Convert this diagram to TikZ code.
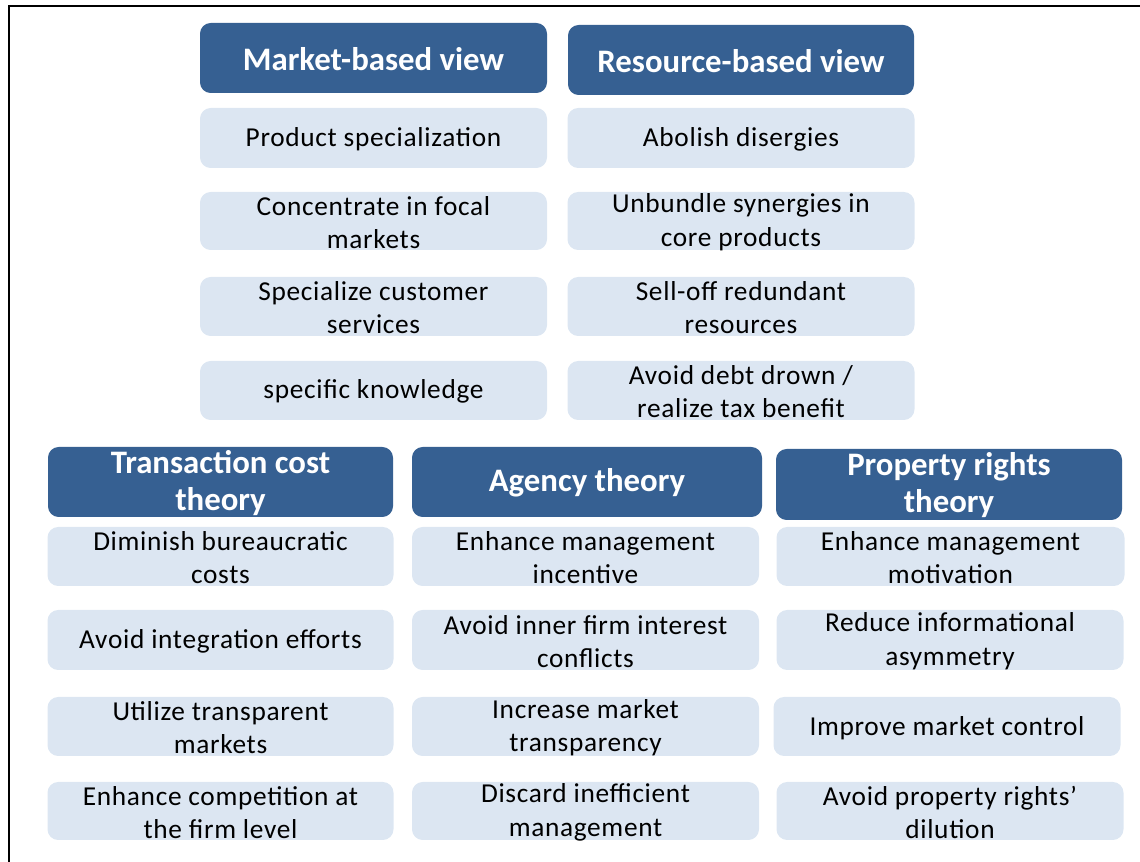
\documentclass[tikz,border=0pt]{standalone}
\usepackage{fontspec}
\setmainfont{Carlito}
\newfontfamily\bodyfont[LetterSpace=2.5]{Carlito}
\definecolor{hdblue}{HTML}{366092}
\definecolor{itblue}{HTML}{DCE6F2}
\tikzset{
  hdbox/.style={fill=hdblue, rounded corners=8pt, inner sep=0pt},
  itbox/.style={fill=itblue, rounded corners=8pt, inner sep=0pt},
  hdtext/.style={text=white, align=center, inner sep=0pt, yshift=-0.5pt, font=\fontsize{24.6}{27.8}\selectfont\bfseries},
  ittext/.style={text=black, align=center, inner sep=0pt, yshift=-1pt, font=\bodyfont\fontsize{20.5}{25}\selectfont},
  frameline/.style={line width=1.5pt, draw=black}
}
\newcommand\tbox[7]{%
  \node[#2box, minimum width=#5*0.75pt, minimum height=#6*0.75pt] (#1) at (#3,#4) {};
  \node[#2text] (#1t) at (#1.center) {#7};
}
\begin{document}
\begin{tikzpicture}[x=0.75pt,y=-0.75pt]
\useasboundingbox (0,0) rectangle (1140,862);
\coordinate (fa) at (8.5,862);
\coordinate (fb) at (8.5,6.5);
\coordinate (fc) at (1140,6.5);
\draw[frameline] (fa) -- (fb) -- (fc);
% top section
\tbox{mbv}{hd}{373.5}{58}{347}{70}{Market-based  view}
\tbox{rbv}{hd}{741}{60}{346}{70}{Resource-based view}
\tbox{m1}{it}{373.5}{138}{347}{60}{Product specialization}
\tbox{m2}{it}{373.5}{221}{347}{58}{Concentrate in focal\\markets}
\tbox{m3}{it}{373.5}{306.5}{347}{59}{Specialize customer\\services}
\tbox{m4}{it}{373.5}{390.5}{347}{59}{specific knowledge}
\tbox{r1}{it}{741}{138}{347}{60}{Abolish disergies}
\tbox{r2}{it}{741}{221}{347}{58}{Unbundle  synergies in\\core products}
\tbox{r3}{it}{741}{306.5}{347}{59}{Sell-off redundant\\resources}
\tbox{r4}{it}{741}{390.5}{347}{59}{Avoid debt drown /\\realize tax benefit}
% bottom section
\tbox{tc}{hd}{220.5}{482}{345}{70}{Transaction  cost\\theory}
\tbox{ag}{hd}{587}{482}{350}{70}{Agency theory}
\tbox{pr}{hd}{949}{484.5}{346}{71}{Property rights\\theory}
\tbox{t1}{it}{220.5}{556.5}{346}{59}{Diminish  bureaucratic\\costs}
\tbox{t2}{it}{220.5}{640}{346}{60}{Avoid integration efforts}
\tbox{t3}{it}{220.5}{726.5}{346}{59}{Utilize transparent\\markets}
\tbox{t4}{it}{220.5}{811}{346}{58}{Enhance competition at\\the firm level}
\tbox{a1}{it}{585.5}{556.5}{347}{59}{Enhance  management\\incentive}
\tbox{a2}{it}{585.5}{640}{347}{60}{Avoid inner  firm interest\\conflicts}
\tbox{a3}{it}{585.5}{726.5}{347}{59}{Increase market\\transparency}
\tbox{a4}{it}{585.5}{811}{347}{58}{Discard inefficient\\management}
\tbox{p1}{it}{950.5}{556.5}{348}{59}{Enhance  management\\motivation}
\tbox{p2}{it}{950}{640}{347}{60}{Reduce informational\\asymmetry}
\tbox{p3}{it}{947}{726.5}{347}{59}{Improve market control}
\tbox{p4}{it}{950}{811}{347}{58}{Avoid property rights’\\dilution}
\end{tikzpicture}
\end{document}
